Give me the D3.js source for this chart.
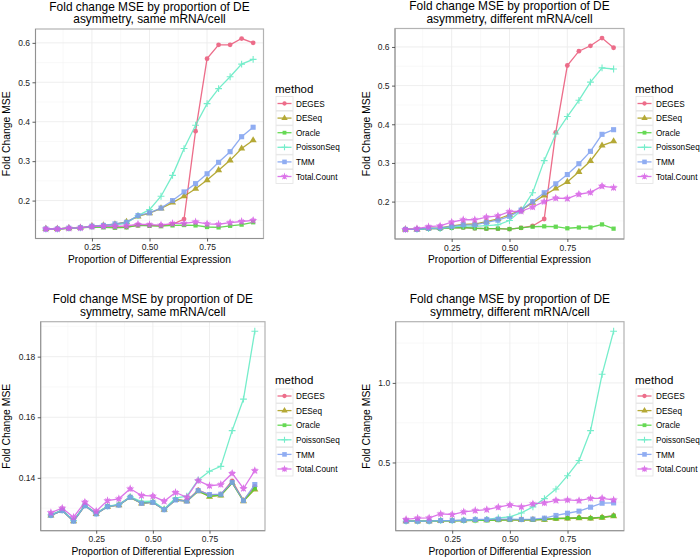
<!DOCTYPE html>
<html>
<head>
<meta charset="utf-8">
<script src="https://cdn.jsdelivr.net/npm/d3@7"></script>
<style>
html,body{margin:0;padding:0;background:#fff;}
svg{display:block;font-family:"Liberation Sans",Arial,Helvetica,sans-serif;}
</style>
</head>
<body>
<svg id="chart" width="700" height="560"></svg>
<script>
// ---------- data ----------
const methods = ["DEGES","DESeq","Oracle","PoissonSeq","TMM","Total.Count"];
const methodColors = ["#ea5476","#a99b14","#4cd337","#5eebc2","#7d9ff0","#d75fe6"];
const proportions = [0.05,0.10,0.15,0.20,0.25,0.30,0.35,0.40,0.45,0.50,0.55,0.60,0.65,0.70,0.75,0.80,0.85,0.90,0.95];
const xTickValues = [0.25,0.50,0.75];
const xTickLabels = ["0.25","0.50","0.75"];

const panelTitles = [
  ["Fold change MSE by proportion of DE","asymmetry, same mRNA/cell"],
  ["Fold change MSE by proportion of DE","asymmetry, different mRNA/cell"],
  ["Fold change MSE by proportion of DE","symmetry, same mRNA/cell"],
  ["Fold change MSE by proportion of DE","symmetry, different mRNA/cell"]
];
const yTicks1 = [0.2,0.3,0.4,0.5,0.6];
const yTicks2 = [0.2,0.3,0.4,0.5,0.6];
const yTicks3 = [0.14,0.16,0.18];
const yTicks4 = [0.5,1.0];
const yTickLabels1 = ["0.2","0.3","0.4","0.5","0.6"];
const yTickLabels2 = ["0.2","0.3","0.4","0.5","0.6"];
const yTickLabels3 = ["0.14","0.16","0.18"];
const yTickLabels4 = ["0.5","1.0"];

// Panel 1: asymmetry, same mRNA/cell
const p1_DEGES      = [0.128,0.128,0.130,0.131,0.134,0.134,0.133,0.133,0.137,0.137,0.136,0.140,0.153,0.376,0.560,0.595,0.595,0.611,0.600];
const p1_DESeq      = [0.128,0.128,0.130,0.131,0.135,0.137,0.140,0.146,0.160,0.168,0.180,0.195,0.211,0.230,0.252,0.277,0.302,0.332,0.353];
const p1_Oracle     = [0.128,0.128,0.130,0.131,0.133,0.132,0.131,0.132,0.137,0.136,0.135,0.137,0.138,0.137,0.133,0.132,0.136,0.139,0.145];
const p1_PoissonSeq = [0.128,0.128,0.130,0.131,0.134,0.136,0.138,0.143,0.162,0.177,0.211,0.264,0.332,0.391,0.446,0.484,0.514,0.546,0.558];
const p1_TMM        = [0.128,0.128,0.130,0.131,0.135,0.137,0.141,0.145,0.162,0.169,0.181,0.200,0.222,0.243,0.268,0.297,0.324,0.362,0.386];
const p1_Total      = [0.128,0.128,0.130,0.131,0.134,0.135,0.135,0.136,0.140,0.139,0.138,0.142,0.142,0.146,0.141,0.140,0.144,0.147,0.150];

// Panel 2: asymmetry, different mRNA/cell
const p2_DEGES      = [0.128,0.128,0.130,0.130,0.132,0.133,0.131,0.130,0.130,0.129,0.132,0.137,0.155,0.379,0.552,0.589,0.603,0.623,0.598];
const p2_DESeq      = [0.128,0.128,0.131,0.132,0.137,0.141,0.142,0.148,0.155,0.166,0.178,0.197,0.216,0.234,0.251,0.277,0.305,0.345,0.356];
const p2_Oracle     = [0.128,0.128,0.130,0.130,0.132,0.133,0.131,0.130,0.130,0.129,0.132,0.135,0.136,0.135,0.131,0.133,0.133,0.141,0.130];
const p2_PoissonSeq = [0.128,0.128,0.130,0.130,0.134,0.137,0.136,0.138,0.140,0.151,0.177,0.223,0.306,0.375,0.420,0.462,0.509,0.546,0.543];
const p2_TMM        = [0.128,0.128,0.131,0.132,0.136,0.140,0.140,0.146,0.152,0.162,0.178,0.200,0.223,0.246,0.270,0.298,0.330,0.374,0.386];
const p2_Total      = [0.128,0.130,0.135,0.137,0.147,0.153,0.153,0.160,0.163,0.174,0.175,0.186,0.200,0.209,0.208,0.219,0.224,0.240,0.236];

// Panel 3: symmetry, same mRNA/cell
const p3_DEGES      = [0.1277,0.1293,0.1258,0.1310,0.1282,0.1306,0.1311,0.1337,0.1317,0.1320,0.1296,0.1328,0.1324,0.1360,0.1344,0.1345,0.1390,0.1326,0.1372];
const p3_DESeq      = [0.1276,0.1292,0.1257,0.1308,0.1281,0.1305,0.1310,0.1335,0.1316,0.1319,0.1295,0.1327,0.1323,0.1356,0.1338,0.1342,0.1383,0.1323,0.1362];
const p3_Oracle     = [0.1277,0.1293,0.1258,0.1309,0.1282,0.1306,0.1311,0.1336,0.1317,0.1320,0.1296,0.1328,0.1324,0.1357,0.1340,0.1343,0.1384,0.1324,0.1365];
const p3_PoissonSeq = [0.1278,0.1294,0.1259,0.1310,0.1283,0.1307,0.1312,0.1338,0.1322,0.1323,0.1297,0.1333,0.1340,0.1393,0.1422,0.1438,0.1556,0.1660,0.1884];
const p3_TMM        = [0.1276,0.1292,0.1257,0.1308,0.1281,0.1305,0.1310,0.1336,0.1316,0.1319,0.1295,0.1327,0.1323,0.1358,0.1345,0.1346,0.1385,0.1325,0.1378];
const p3_Total      = [0.1285,0.1300,0.1270,0.1320,0.1290,0.1325,0.1331,0.1364,0.1342,0.1340,0.1323,0.1352,0.1336,0.1391,0.1374,0.1378,0.1415,0.1365,0.1424];

// Panel 4: symmetry, different mRNA/cell
const p4_DEGES      = [0.131,0.131,0.131,0.134,0.134,0.136,0.138,0.139,0.140,0.141,0.140,0.141,0.143,0.149,0.150,0.153,0.150,0.156,0.166];
const p4_DESeq      = [0.131,0.131,0.131,0.133,0.133,0.135,0.137,0.138,0.139,0.140,0.139,0.140,0.141,0.147,0.148,0.150,0.148,0.153,0.163];
const p4_Oracle     = [0.131,0.131,0.131,0.133,0.133,0.134,0.136,0.137,0.138,0.139,0.139,0.140,0.142,0.148,0.150,0.152,0.150,0.155,0.165];
const p4_PoissonSeq = [0.131,0.131,0.131,0.135,0.135,0.137,0.140,0.142,0.152,0.158,0.183,0.221,0.273,0.333,0.417,0.512,0.700,1.054,1.325];
const p4_TMM        = [0.131,0.131,0.131,0.135,0.135,0.137,0.142,0.142,0.144,0.144,0.142,0.144,0.150,0.167,0.181,0.194,0.219,0.244,0.246];
const p4_Total      = [0.142,0.150,0.152,0.177,0.173,0.190,0.198,0.204,0.219,0.233,0.221,0.240,0.246,0.262,0.265,0.260,0.275,0.275,0.265];

// ---------- layout ----------
const panels = [
  {box:{l:35.5,r:263.5,t:29,b:238.5}, leg:{x:275,y:93,dy:103.5}, yt:yTicks1, yl:yTickLabels1,
   series:[p1_DEGES,p1_DESeq,p1_Oracle,p1_PoissonSeq,p1_TMM,p1_Total], title:panelTitles[0], ylabX:10},
  {box:{l:395,r:624,t:28.5,b:239}, leg:{x:635,y:93,dy:103.5}, yt:yTicks2, yl:yTickLabels2,
   series:[p2_DEGES,p2_DESeq,p2_Oracle,p2_PoissonSeq,p2_TMM,p2_Total], title:panelTitles[1], ylabX:370},
  {box:{l:40.7,r:265,t:321.7,b:530.7}, leg:{x:275,y:384,dy:396}, yt:yTicks3, yl:yTickLabels3,
   series:[p3_DEGES,p3_DESeq,p3_Oracle,p3_PoissonSeq,p3_TMM,p3_Total], title:panelTitles[2], ylabX:10},
  {box:{l:395.7,r:624,t:321.7,b:530.7}, leg:{x:635,y:384,dy:396}, yt:yTicks4, yl:yTickLabels4,
   series:[p4_DEGES,p4_DESeq,p4_Oracle,p4_PoissonSeq,p4_TMM,p4_Total], title:panelTitles[3], ylabX:370}
];

const shapeTypes = [d3.symbolCircle, d3.symbolTriangle, d3.symbolSquare, d3.symbolPlus, d3.symbolSquare, d3.symbolStar];
const shapeSizes = [18, 22, 18, 40, 26, 22];

const svg = d3.select("#chart");

function drawShape(g, i, cx, cy, scale) {
  const s = scale || 1;
  if (i === 3) {
    const h = 3.4 * s;
    g.append("path")
      .attr("d", `M${cx-h},${cy}H${cx+h}M${cx},${cy-h}V${cy+h}`)
      .attr("stroke", methodColors[i]).attr("stroke-width", 1.1).attr("fill","none");
  } else if (i === 5) {
    const h = 2.9 * s;
    g.append("path")
      .attr("d", d3.symbol().type(d3.symbolStar).size(shapeSizes[i]*s*s)())
      .attr("transform", `translate(${cx},${cy})`)
      .attr("fill", methodColors[i]);
    g.append("path")
      .attr("d", `M${cx-h},${cy}H${cx+h}M${cx},${cy-h}V${cy+h}M${cx-h*0.7},${cy-h*0.7}L${cx+h*0.7},${cy+h*0.7}M${cx-h*0.7},${cy+h*0.7}L${cx+h*0.7},${cy-h*0.7}`)
      .attr("stroke", methodColors[i]).attr("stroke-width", 1).attr("fill","none");
  } else {
    g.append("path")
      .attr("d", d3.symbol().type(shapeTypes[i]).size(shapeSizes[i]*s*s)())
      .attr("transform", `translate(${cx},${cy})`)
      .attr("fill", methodColors[i]);
  }
}

panels.forEach(p => {
  const b = p.box;
  const xExt = d3.extent(proportions);
  const xPad = (xExt[1]-xExt[0])*0.05;
  const x = d3.scaleLinear().domain([xExt[0]-xPad, xExt[1]+xPad]).range([b.l, b.r]);
  const all = p.series.flat();
  const yExt = d3.extent(all);
  const yPad = (yExt[1]-yExt[0])*0.05;
  const y = d3.scaleLinear().domain([yExt[0]-yPad, yExt[1]+yPad]).range([b.b, b.t]);

  const g = svg.append("g");
  g.append("rect").attr("x",b.l).attr("y",b.t).attr("width",b.r-b.l).attr("height",b.b-b.t).attr("fill","#fff");

  // minor grid
  const ytStep = p.yt[1]-p.yt[0];
  const yMinor = [];
  for (let v = p.yt[0]-ytStep/2; v <= y.domain()[1]; v += ytStep) {
    if (v >= y.domain()[0]) yMinor.push(v);
  }
  const xMinor = [0.125,0.375,0.625,0.875];
  g.selectAll(".ymin").data(yMinor).enter().append("line")
    .attr("x1",b.l).attr("x2",b.r).attr("y1",d=>y(d)).attr("y2",d=>y(d))
    .attr("stroke","#f5f5f5").attr("stroke-width",0.6);
  g.selectAll(".xmin").data(xMinor).enter().append("line")
    .attr("y1",b.t).attr("y2",b.b).attr("x1",d=>x(d)).attr("x2",d=>x(d))
    .attr("stroke","#f5f5f5").attr("stroke-width",0.6);
  // major grid
  g.selectAll(".ymaj").data(p.yt).enter().append("line")
    .attr("x1",b.l).attr("x2",b.r).attr("y1",d=>y(d)).attr("y2",d=>y(d))
    .attr("stroke","#ececec").attr("stroke-width",0.9);
  g.selectAll(".xmaj").data(xTickValues).enter().append("line")
    .attr("y1",b.t).attr("y2",b.b).attr("x1",d=>x(d)).attr("x2",d=>x(d))
    .attr("stroke","#ececec").attr("stroke-width",0.9);

  // series
  const line = d3.line().x((d,i)=>x(proportions[i])).y(d=>y(d));
  p.series.forEach((s, si) => {
    const sg = g.append("g").attr("opacity",0.85);
    sg.append("path").attr("d", line(s)).attr("fill","none")
      .attr("stroke", methodColors[si]).attr("stroke-width",1.3);
    s.forEach((v, vi) => drawShape(sg, si, x(proportions[vi]), y(v)));
  });

  // border
  g.append("rect").attr("x",b.l).attr("y",b.t).attr("width",b.r-b.l).attr("height",b.b-b.t)
    .attr("fill","none").attr("stroke","#b3b3b3").attr("stroke-width",1.2);
  g.append("path").attr("d",`M${b.l},${b.t}V${b.b}H${b.r}`).attr("fill","none")
    .attr("stroke","#888").attr("stroke-width",0.8);

  // axes
  const xAxis = d3.axisBottom(x).tickValues(xTickValues).tickFormat((d,i)=>xTickLabels[i]).tickSize(3).tickPadding(2.5);
  const yAxis = d3.axisLeft(y).tickValues(p.yt).tickFormat((d,i)=>p.yl[i]).tickSize(3).tickPadding(2.5);
  const gx = g.append("g").attr("transform",`translate(0,${b.b})`).call(xAxis);
  const gy = g.append("g").attr("transform",`translate(${b.l},0)`).call(yAxis);
  [gx,gy].forEach(a=>{
    a.select(".domain").remove();
    a.selectAll(".tick line").attr("stroke","#333").attr("stroke-width",0.8);
    a.selectAll(".tick text").attr("fill","#222").attr("font-size",8.5)
      .attr("font-family","Liberation Sans, Arial, sans-serif");
  });

  // titles
  const cx = (b.l+b.r)/2;
  g.append("text").attr("x",cx).attr("y",b.t-18.5).attr("text-anchor","middle")
    .attr("font-size",11.9).attr("fill","#000").text(p.title[0]);
  g.append("text").attr("x",cx).attr("y",b.t-5.8).attr("text-anchor","middle")
    .attr("font-size",11.9).attr("fill","#000").text(p.title[1]);
  g.append("text").attr("x",cx).attr("y",b.b+24).attr("text-anchor","middle")
    .attr("font-size",10.2).attr("fill","#000").text("Proportion of Differential Expression");
  g.append("text").attr("transform",`translate(${p.ylabX},${(b.t+b.b)/2}) rotate(-90)`)
    .attr("text-anchor","middle").attr("font-size",10.4).attr("fill","#000").text("Fold Change MSE");

  // legend
  const L = p.leg;
  g.append("text").attr("x",L.x).attr("y",L.y).attr("font-size",11.5).attr("fill","#000").text("method");
  methods.forEach((m, mi) => {
    const ey = L.dy + mi*14.6;
    g.append("rect").attr("x",L.x+1).attr("y",ey-7).attr("width",17).attr("height",14)
      .attr("fill","#fff").attr("stroke","#e3e3e3").attr("stroke-width",0.8);
    const lg = g.append("g").attr("opacity",0.85);
    lg.append("line").attr("x1",L.x+2.5).attr("x2",L.x+16.5).attr("y1",ey).attr("y2",ey)
      .attr("stroke",methodColors[mi]).attr("stroke-width",1.3);
    drawShape(lg, mi, L.x+9.5, ey, 0.9);
    g.append("text").attr("x",L.x+21).attr("y",ey+3.1).attr("font-size",8.2).attr("fill","#000").text(m);
  });
});
</script>
</body>
</html>
